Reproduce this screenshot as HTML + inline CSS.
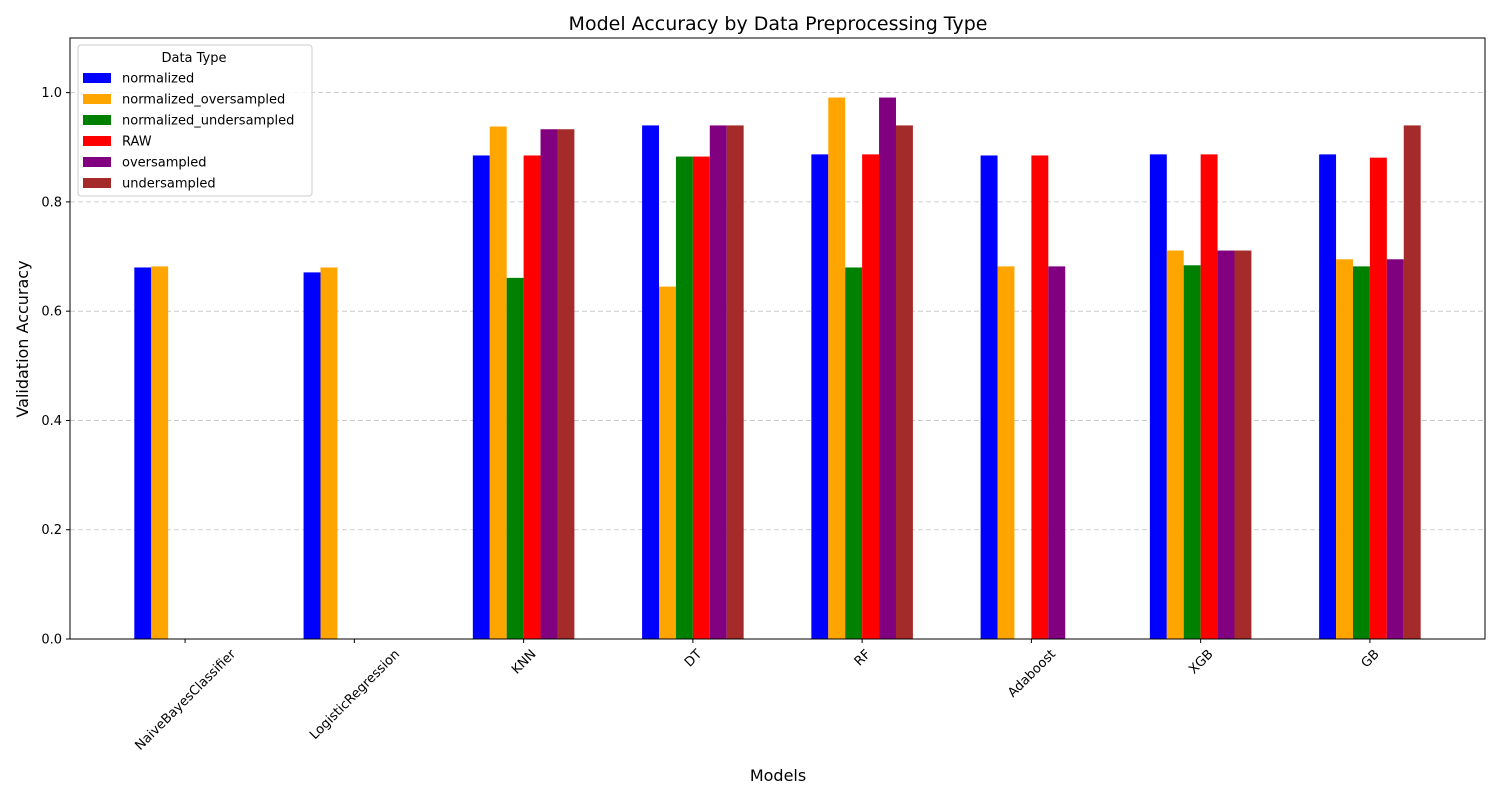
<!DOCTYPE html>
<html><head><meta charset="utf-8"><style>
html,body{margin:0;padding:0;background:#fff;}
svg{display:block;font-family:"DejaVu Sans","Liberation Sans",sans-serif;}
</style></head><body>
<svg id="chart" width="1500" height="800" xmlns="http://www.w3.org/2000/svg"></svg>
<script>
const categories = ["NaiveBayesClassifier","LogisticRegression","KNN","DT","RF","Adaboost","XGB","GB"];
const seriesNames = ["normalized","normalized_oversampled","normalized_undersampled","RAW","oversampled","undersampled"];
const seriesColors = ["#0000ff","#ffa500","#008000","#ff0000","#800080","#a52a2a"];
const normalized = [0.680,0.671,0.885,0.940,0.887,0.885,0.887,0.887];
const normalizedOversampled = [0.682,0.680,0.938,0.645,0.991,0.682,0.711,0.695];
const normalizedUndersampled = [0,0,0.661,0.883,0.680,0,0.684,0.682];
const raw = [0,0,0.885,0.883,0.887,0.885,0.887,0.881];
const oversampled = [0,0,0.933,0.940,0.991,0.682,0.711,0.695];
const undersampled = [0,0,0.933,0.940,0.940,0,0.711,0.940];
const yTicks = [0.0,0.2,0.4,0.6,0.8,1.0];
const seriesValues = [normalized,normalizedOversampled,normalizedUndersampled,raw,oversampled,undersampled];

const NS="http://www.w3.org/2000/svg";
const svg=document.getElementById('chart');
const L=70,R=1485,T=38,B=639;
const xmin=-0.68,xmax=7.68,ymax=1.1;
const xs=v=>L+(v-xmin)/(xmax-xmin)*(R-L);
const ys=v=>B-v/ymax*(B-T);
function mk(tag,attrs,parent){const e=document.createElementNS(NS,tag);for(const k in attrs)e.setAttribute(k,attrs[k]);(parent||svg).appendChild(e);return e;}

yTicks.forEach(t=>{
  const g=mk('line',{x1:L,x2:R,y1:ys(t),y2:ys(t),stroke:'#c0c0c0','stroke-dasharray':'5,3','stroke-width':0.8});
  
  
});
const bw=0.1;
seriesValues.forEach((vals,si)=>{
  vals.forEach((v,ci)=>{
    if(!v) return;
    const x0=xs(ci-0.3+si*bw), x1=xs(ci-0.3+(si+1)*bw);
    const r=mk('rect',{x:x0,y:ys(v),width:x1-x0,height:ys(0)-ys(v),fill:seriesColors[si]});
    
    
  });
});
const fr=mk('rect',{x:L,y:T,width:R-L,height:B-T,fill:'none',stroke:'#000','stroke-width':1});


yTicks.forEach(t=>{
  mk('line',{x1:L-4,x2:L,y1:ys(t),y2:ys(t),stroke:'#000'});
  const tx=mk('text',{x:L-8,y:ys(t)+4.5,'text-anchor':'end','font-size':13});
  tx.textContent=t.toFixed(1);
  
  
});
categories.forEach((c,i)=>{
  const x=xs(i);
  mk('line',{x1:x,x2:x,y1:B,y2:B+4,stroke:'#000'});
  const tx=mk('text',{x:x,y:0,'text-anchor':'middle','font-size':13});
  tx.textContent=c;
  
  
  const w=tx.getComputedTextLength();
  const h=(w+13)*0.7071;
  const cy=B+8+h/2;
  tx.setAttribute('y',cy+4.5);
  tx.setAttribute('transform',`rotate(-45 ${x} ${cy})`);
});
let t=mk('text',{x:778,y:30,'text-anchor':'middle','font-size':19});t.textContent='Model Accuracy by Data Preprocessing Type';

t=mk('text',{x:778,y:781,'text-anchor':'middle','font-size':16});t.textContent='Models';

t=mk('text',{x:28,y:339,'text-anchor':'middle','font-size':16,transform:'rotate(-90 28 339)'});t.textContent='Validation Accuracy';

const lg=mk('g',{});

mk('rect',{x:78,y:45,width:234,height:151,rx:3,fill:'#fff','fill-opacity':0.8,stroke:'#ccc'},lg);
t=mk('text',{x:194,y:62,'text-anchor':'middle','font-size':13},lg);t.textContent='Data Type';

seriesNames.forEach((n,i)=>{
  const y=78+i*21;
  const g=mk('g',{},lg);
  
  
  mk('rect',{x:83,y:y-5,width:28,height:10,fill:seriesColors[i]},g);
  const tx=mk('text',{x:122,y:y+4.5,'font-size':13},g);tx.textContent=n;
});
</script>
</body></html>
